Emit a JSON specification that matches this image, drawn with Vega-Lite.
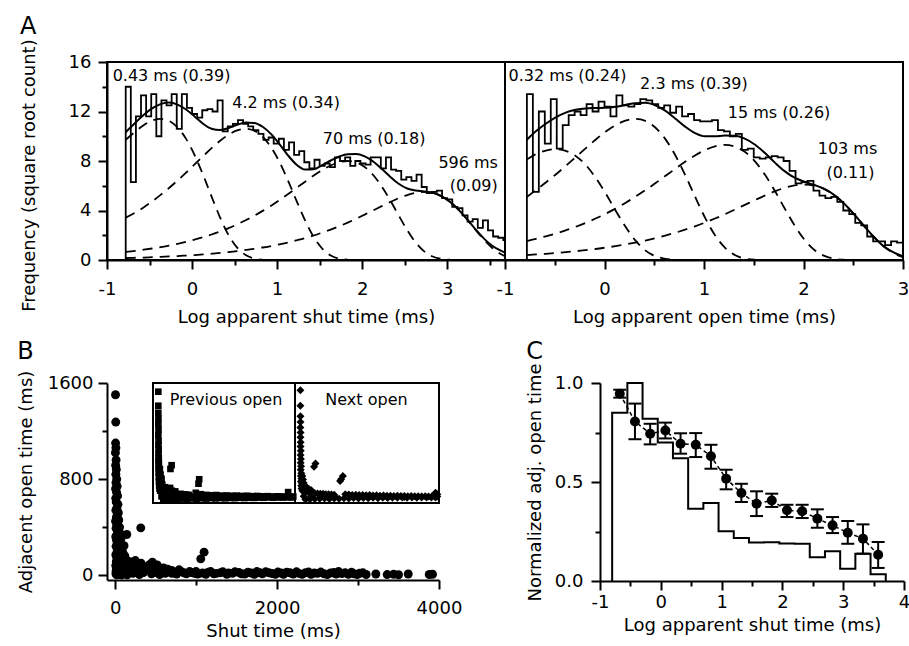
{
"$schema": "https://vega.github.io/schema/vega-lite/v6.json",
"background": "white",
"padding": {"left": 17, "top": 13, "right": 0, "bottom": 0},
"config": {
 "font": "DejaVu Sans",
 "view": {"stroke": null},
 "axis": {"labelFont": "DejaVu Sans", "titleFont": "DejaVu Sans", "labelFontSize": 18, "titleFontSize": 18, "titleFontWeight": "normal", "labelColor": "black", "titleColor": "black", "domainColor": "black", "tickColor": "black", "domainWidth": 2, "tickWidth": 2, "grid": false, "labelOverlap": false, "labelFlush": false},
 "title": {"font": "DejaVu Sans", "fontSize": 24, "fontWeight": "normal", "color": "black", "anchor": "start", "frame": "bounds", "baseline": "alphabetic"},
 "text": {"font": "DejaVu Sans", "fontSize": 16, "color": "black"}
},
"datasets": {
 "histL": [{"i":0,"x":-0.78,"y":0},{"i":1,"x":-0.78,"y":14.0},{"i":2,"x":-0.72,"y":6.3},{"i":3,"x":-0.66,"y":11.6},{"i":4,"x":-0.60,"y":13.3},{"i":5,"x":-0.54,"y":11.6},{"i":6,"x":-0.48,"y":13.4},{"i":7,"x":-0.42,"y":10.0},{"i":8,"x":-0.36,"y":12.9},{"i":9,"x":-0.30,"y":12.5},{"i":10,"x":-0.24,"y":13.4},{"i":11,"x":-0.18,"y":10.6},{"i":12,"x":-0.12,"y":13.4},{"i":13,"x":-0.06,"y":12.3},{"i":14,"x":0.00,"y":11.8},{"i":15,"x":0.06,"y":11.5},{"i":16,"x":0.12,"y":12.1},{"i":17,"x":0.18,"y":12.2},{"i":18,"x":0.24,"y":12.0},{"i":19,"x":0.30,"y":12.9},{"i":20,"x":0.36,"y":10.4},{"i":21,"x":0.42,"y":10.8},{"i":22,"x":0.48,"y":11.0},{"i":23,"x":0.54,"y":11.3},{"i":24,"x":0.60,"y":11.0},{"i":25,"x":0.66,"y":10.8},{"i":26,"x":0.72,"y":10.5},{"i":27,"x":0.78,"y":10.2},{"i":28,"x":0.84,"y":9.7},{"i":29,"x":0.90,"y":9.9},{"i":30,"x":0.96,"y":9.4},{"i":31,"x":1.02,"y":9.8},{"i":32,"x":1.08,"y":8.9},{"i":33,"x":1.14,"y":9.5},{"i":34,"x":1.20,"y":8.5},{"i":35,"x":1.26,"y":8.8},{"i":36,"x":1.32,"y":7.9},{"i":37,"x":1.38,"y":7.4},{"i":38,"x":1.44,"y":8.1},{"i":39,"x":1.50,"y":7.6},{"i":40,"x":1.56,"y":7.8},{"i":41,"x":1.62,"y":7.5},{"i":42,"x":1.68,"y":8.3},{"i":43,"x":1.74,"y":8.0},{"i":44,"x":1.80,"y":8.3},{"i":45,"x":1.86,"y":7.6},{"i":46,"x":1.92,"y":8.0},{"i":47,"x":1.98,"y":7.8},{"i":48,"x":2.04,"y":7.7},{"i":49,"x":2.10,"y":8.3},{"i":50,"x":2.16,"y":8.3},{"i":51,"x":2.22,"y":7.4},{"i":52,"x":2.28,"y":8.3},{"i":53,"x":2.34,"y":7.3},{"i":54,"x":2.40,"y":7.2},{"i":55,"x":2.46,"y":6.5},{"i":56,"x":2.52,"y":6.7},{"i":57,"x":2.58,"y":6.4},{"i":58,"x":2.64,"y":6.9},{"i":59,"x":2.70,"y":5.9},{"i":60,"x":2.76,"y":5.4},{"i":61,"x":2.82,"y":5.5},{"i":62,"x":2.88,"y":5.6},{"i":63,"x":2.94,"y":5.0},{"i":64,"x":3.00,"y":4.9},{"i":65,"x":3.06,"y":4.3},{"i":66,"x":3.12,"y":4.2},{"i":67,"x":3.18,"y":3.6},{"i":68,"x":3.24,"y":3.1},{"i":69,"x":3.30,"y":3.3},{"i":70,"x":3.36,"y":2.6},{"i":71,"x":3.42,"y":3.2},{"i":72,"x":3.48,"y":2.4},{"i":73,"x":3.54,"y":1.9},{"i":74,"x":3.60,"y":1.8},{"i":75,"x":3.66,"y":1.6},{"i":76,"x":3.72,"y":1.6}],
 "histR": [{"i":0,"x":-0.78,"y":0},{"i":1,"x":-0.78,"y":13.4},{"i":2,"x":-0.72,"y":5.5},{"i":3,"x":-0.66,"y":12.0},{"i":4,"x":-0.60,"y":9.4},{"i":5,"x":-0.54,"y":13.0},{"i":6,"x":-0.48,"y":9.0},{"i":7,"x":-0.42,"y":10.9},{"i":8,"x":-0.36,"y":11.7},{"i":9,"x":-0.30,"y":12.0},{"i":10,"x":-0.24,"y":11.7},{"i":11,"x":-0.18,"y":12.6},{"i":12,"x":-0.12,"y":12.0},{"i":13,"x":-0.06,"y":12.8},{"i":14,"x":0.00,"y":12.4},{"i":15,"x":0.06,"y":11.6},{"i":16,"x":0.12,"y":13.3},{"i":17,"x":0.18,"y":12.5},{"i":18,"x":0.24,"y":12.4},{"i":19,"x":0.30,"y":12.6},{"i":20,"x":0.36,"y":13.0},{"i":21,"x":0.42,"y":12.9},{"i":22,"x":0.48,"y":12.6},{"i":23,"x":0.54,"y":12.3},{"i":24,"x":0.60,"y":12.5},{"i":25,"x":0.66,"y":11.9},{"i":26,"x":0.72,"y":12.4},{"i":27,"x":0.78,"y":11.6},{"i":28,"x":0.84,"y":11.8},{"i":29,"x":0.90,"y":11.3},{"i":30,"x":0.96,"y":11.2},{"i":31,"x":1.02,"y":11.2},{"i":32,"x":1.08,"y":11.3},{"i":33,"x":1.14,"y":10.5},{"i":34,"x":1.20,"y":10.4},{"i":35,"x":1.26,"y":10.0},{"i":36,"x":1.32,"y":10.2},{"i":37,"x":1.38,"y":8.9},{"i":38,"x":1.44,"y":9.0},{"i":39,"x":1.50,"y":8.3},{"i":40,"x":1.56,"y":8.2},{"i":41,"x":1.62,"y":8.3},{"i":42,"x":1.68,"y":8.4},{"i":43,"x":1.74,"y":8.3},{"i":44,"x":1.80,"y":8.0},{"i":45,"x":1.86,"y":7.2},{"i":46,"x":1.92,"y":6.2},{"i":47,"x":1.98,"y":6.3},{"i":48,"x":2.04,"y":6.4},{"i":49,"x":2.10,"y":5.6},{"i":50,"x":2.16,"y":5.2},{"i":51,"x":2.22,"y":5.0},{"i":52,"x":2.28,"y":5.1},{"i":53,"x":2.34,"y":4.7},{"i":54,"x":2.40,"y":4.0},{"i":55,"x":2.46,"y":3.7},{"i":56,"x":2.52,"y":3.0},{"i":57,"x":2.58,"y":2.8},{"i":58,"x":2.64,"y":1.9},{"i":59,"x":2.70,"y":1.5},{"i":60,"x":2.76,"y":1.5},{"i":61,"x":2.82,"y":1.2},{"i":62,"x":2.88,"y":1.5},{"i":63,"x":2.94,"y":1.4},{"i":64,"x":3.00,"y":1.4}],
 "curvesL": [{"x":-0.78,"c1":9.72,"c2":3.42,"c3":0.66,"c4":0.16,"tot":10.33},{"x":-0.67,"c1":10.36,"c2":3.82,"c3":0.74,"c4":0.18,"tot":11.07},{"x":-0.57,"c1":10.89,"c2":4.25,"c3":0.83,"c4":0.20,"tot":11.72},{"x":-0.47,"c1":11.26,"c2":4.73,"c3":0.93,"c4":0.23,"tot":12.25},{"x":-0.37,"c1":11.4,"c2":5.26,"c3":1.04,"c4":0.26,"tot":12.6},{"x":-0.27,"c1":11.24,"c2":5.82,"c3":1.17,"c4":0.29,"tot":12.72},{"x":-0.17,"c1":10.71,"c2":6.43,"c3":1.31,"c4":0.32,"tot":12.56},{"x":-0.07,"c1":9.79,"c2":7.06,"c3":1.47,"c4":0.36,"tot":12.16},{"x":0.03,"c1":8.48,"c2":7.73,"c3":1.65,"c4":0.40,"tot":11.6},{"x":0.13,"c1":6.88,"c2":8.39,"c3":1.84,"c4":0.45,"tot":11.01},{"x":0.23,"c1":5.12,"c2":9.04,"c3":2.06,"c4":0.51,"tot":10.6},{"x":0.33,"c1":3.43,"c2":9.63,"c3":2.31,"c4":0.57,"tot":10.5},{"x":0.43,"c1":2.01,"c2":10.13,"c3":2.58,"c4":0.64,"tot":10.66},{"x":0.53,"c1":1.0,"c2":10.47,"c3":2.88,"c4":0.72,"tot":10.93},{"x":0.63,"c1":0.40,"c2":10.6,"c3":3.21,"c4":0.81,"tot":11.11},{"x":0.73,"c1":0.12,"c2":10.45,"c3":3.57,"c4":0.90,"tot":11.08},{"x":0.83,"c1":0.02,"c2":9.96,"c3":3.97,"c4":1.01,"tot":10.77},{"x":0.93,"c1":null,"c2":9.10,"c3":4.39,"c4":1.13,"tot":10.17},{"x":1.03,"c1":null,"c2":7.89,"c3":4.85,"c4":1.27,"tot":9.35},{"x":1.13,"c1":null,"c2":6.39,"c3":5.33,"c4":1.42,"tot":8.44},{"x":1.23,"c1":null,"c2":4.76,"c3":5.83,"c4":1.59,"tot":7.7},{"x":1.33,"c1":null,"c2":3.19,"c3":6.33,"c4":1.77,"tot":7.31},{"x":1.43,"c1":null,"c2":1.87,"c3":6.82,"c4":1.98,"tot":7.34},{"x":1.53,"c1":null,"c2":0.93,"c3":7.27,"c4":2.21,"tot":7.66},{"x":1.63,"c1":null,"c2":0.37,"c3":7.64,"c4":2.46,"tot":8.04},{"x":1.73,"c1":null,"c2":0.11,"c3":7.90,"c4":2.73,"tot":8.36},{"x":1.83,"c1":null,"c2":0.02,"c3":8.0,"c4":3.02,"tot":8.55},{"x":1.93,"c1":null,"c2":null,"c3":7.89,"c4":3.33,"tot":8.56},{"x":2.03,"c1":null,"c2":null,"c3":7.52,"c4":3.67,"tot":8.37},{"x":2.13,"c1":null,"c2":null,"c3":6.87,"c4":4.01,"tot":7.96},{"x":2.23,"c1":null,"c2":null,"c3":5.95,"c4":4.35,"tot":7.37},{"x":2.33,"c1":null,"c2":null,"c3":4.83,"c4":4.69,"tot":6.73},{"x":2.43,"c1":null,"c2":null,"c3":3.60,"c4":5.00,"tot":6.16},{"x":2.53,"c1":null,"c2":null,"c3":2.41,"c4":5.25,"tot":5.78},{"x":2.63,"c1":null,"c2":null,"c3":1.41,"c4":5.43,"tot":5.61},{"x":2.73,"c1":null,"c2":null,"c3":0.70,"c4":5.5,"tot":5.54},{"x":2.83,"c1":null,"c2":null,"c3":0.28,"c4":5.42,"tot":5.43},{"x":2.93,"c1":null,"c2":null,"c3":0.09,"c4":5.17,"tot":5.17},{"x":3.03,"c1":null,"c2":null,"c3":0.02,"c4":4.72,"tot":4.72},{"x":3.13,"c1":null,"c2":null,"c3":null,"c4":4.09,"tot":4.09},{"x":3.23,"c1":null,"c2":null,"c3":null,"c4":3.32,"tot":3.32},{"x":3.33,"c1":null,"c2":null,"c3":null,"c4":2.47,"tot":2.5},{"x":3.43,"c1":null,"c2":null,"c3":null,"c4":1.66,"tot":1.75},{"x":3.53,"c1":null,"c2":null,"c3":null,"c4":0.97,"tot":1.15},{"x":3.63,"c1":null,"c2":null,"c3":null,"c4":0.48,"tot":0.75},{"x":3.68,"c1":null,"c2":null,"c3":null,"c4":0.31,"tot":0.6}],
 "curvesR": [{"x":-0.78,"c1":8.13,"c2":5.09,"c3":1.53,"c4":0.40,"tot":9.72},{"x":-0.69,"c1":8.55,"c2":5.65,"c3":1.71,"c4":0.45,"tot":10.40},{"x":-0.59,"c1":8.84,"c2":6.26,"c3":1.91,"c4":0.50,"tot":11.01},{"x":-0.49,"c1":8.95,"c2":6.91,"c3":2.14,"c4":0.56,"tot":11.52},{"x":-0.39,"c1":8.82,"c2":7.60,"c3":2.40,"c4":0.63,"tot":11.91},{"x":-0.29,"c1":8.41,"c2":8.31,"c3":2.68,"c4":0.71,"tot":12.14},{"x":-0.19,"c1":7.69,"c2":9.02,"c3":3.00,"c4":0.80,"tot":12.25},{"x":-0.09,"c1":6.66,"c2":9.72,"c3":3.35,"c4":0.89,"tot":12.28},{"x":0.01,"c1":5.40,"c2":10.36,"c3":3.73,"c4":1.00,"tot":12.3},{"x":0.11,"c1":4.02,"c2":10.89,"c3":4.15,"c4":1.12,"tot":12.38},{"x":0.21,"c1":2.70,"c2":11.26,"c3":4.61,"c4":1.26,"tot":12.53},{"x":0.31,"c1":1.58,"c2":11.4,"c3":5.11,"c4":1.41,"tot":12.67},{"x":0.41,"c1":0.78,"c2":11.24,"c3":5.64,"c4":1.57,"tot":12.7},{"x":0.51,"c1":0.31,"c2":10.71,"c3":6.20,"c4":1.76,"tot":12.5},{"x":0.61,"c1":0.10,"c2":9.79,"c3":6.78,"c4":1.97,"tot":12.07},{"x":0.71,"c1":0.02,"c2":8.48,"c3":7.36,"c4":2.20,"tot":11.44},{"x":0.81,"c1":null,"c2":6.88,"c3":7.93,"c4":2.45,"tot":10.78},{"x":0.91,"c1":null,"c2":5.12,"c3":8.45,"c4":2.72,"tot":10.25},{"x":1.01,"c1":null,"c2":3.43,"c3":8.88,"c4":3.02,"tot":9.99},{"x":1.11,"c1":null,"c2":2.01,"c3":9.19,"c4":3.35,"tot":9.99},{"x":1.21,"c1":null,"c2":1.0,"c3":9.3,"c4":3.70,"tot":10.06},{"x":1.31,"c1":null,"c2":0.40,"c3":9.17,"c4":4.07,"tot":10.04},{"x":1.41,"c1":null,"c2":0.12,"c3":8.74,"c4":4.45,"tot":9.81},{"x":1.51,"c1":null,"c2":0.02,"c3":7.99,"c4":4.83,"tot":9.33},{"x":1.61,"c1":null,"c2":null,"c3":6.92,"c4":5.20,"tot":8.66},{"x":1.71,"c1":null,"c2":null,"c3":5.61,"c4":5.54,"tot":7.89},{"x":1.81,"c1":null,"c2":null,"c3":4.18,"c4":5.83,"tot":7.18},{"x":1.91,"c1":null,"c2":null,"c3":2.80,"c4":6.03,"tot":6.65},{"x":2.01,"c1":null,"c2":null,"c3":1.64,"c4":6.1,"tot":6.32},{"x":2.11,"c1":null,"c2":null,"c3":0.81,"c4":6.01,"tot":6.06},{"x":2.21,"c1":null,"c2":null,"c3":0.33,"c4":5.73,"tot":5.74},{"x":2.31,"c1":null,"c2":null,"c3":0.10,"c4":5.24,"tot":5.24},{"x":2.41,"c1":null,"c2":null,"c3":0.02,"c4":4.54,"tot":4.54},{"x":2.51,"c1":null,"c2":null,"c3":null,"c4":3.68,"tot":3.68},{"x":2.61,"c1":null,"c2":null,"c3":null,"c4":2.74,"tot":2.74},{"x":2.71,"c1":null,"c2":null,"c3":null,"c4":1.84,"tot":1.84},{"x":2.81,"c1":null,"c2":null,"c3":null,"c4":1.08,"tot":1.08},{"x":2.91,"c1":null,"c2":null,"c3":null,"c4":0.53,"tot":0.6},{"x":3.0,"c1":null,"c2":null,"c3":null,"c4":0.22,"tot":0.3}],
 "annL": [{"x":-0.241,"y":14.9,"label":"0.43 ms (0.39)"},{"x":1.106,"y":12.7,"label":"4.2 ms (0.34)"},{"x":2.141,"y":9.74,"label":"70 ms (0.18)"},{"x":3.247,"y":7.85,"label":"596 ms"},{"x":3.312,"y":5.94,"label":"(0.09)"}],
 "annR": [{"x":-0.372,"y":14.83,"label":"0.32 ms (0.24)"},{"x":0.899,"y":14.26,"label":"2.3 ms (0.39)"},{"x":1.754,"y":11.84,"label":"15 ms (0.26)"},{"x":2.442,"y":9.0,"label":"103 ms"},{"x":2.472,"y":7.07,"label":"(0.11)"}],
 "scatter": [{"x":5,"y":1502},{"x":8,"y":1275},{"x":6,"y":1100},{"x":10,"y":1060},{"x":4,"y":1020},{"x":12,"y":960},{"x":7,"y":915},{"x":15,"y":880},{"x":9,"y":840},{"x":20,"y":800},{"x":11,"y":770},{"x":25,"y":740},{"x":6,"y":720},{"x":18,"y":690},{"x":30,"y":660},{"x":8,"y":640},{"x":14,"y":610},{"x":35,"y":590},{"x":22,"y":560},{"x":10,"y":540},{"x":40,"y":520},{"x":28,"y":500},{"x":16,"y":480},{"x":45,"y":460},{"x":6,"y":450},{"x":33,"y":440},{"x":20,"y":420},{"x":55,"y":400},{"x":12,"y":390},{"x":38,"y":370},{"x":60,"y":350},{"x":25,"y":340},{"x":8,"y":320},{"x":48,"y":310},{"x":70,"y":300},{"x":18,"y":290},{"x":35,"y":270},{"x":65,"y":255},{"x":110,"y":245},{"x":12,"y":240},{"x":50,"y":230},{"x":80,"y":215},{"x":28,"y":205},{"x":95,"y":190},{"x":40,"y":180},{"x":9,"y":170},{"x":60,"y":165},{"x":120,"y":160},{"x":22,"y":150},{"x":85,"y":140},{"x":45,"y":130},{"x":150,"y":120},{"x":15,"y":115},{"x":70,"y":110},{"x":250,"y":122},{"x":30,"y":100},{"x":110,"y":95},{"x":55,"y":90},{"x":180,"y":85},{"x":8,"y":80},{"x":90,"y":75},{"x":35,"y":70},{"x":300,"y":75},{"x":140,"y":65},{"x":20,"y":60},{"x":70,"y":55},{"x":210,"y":50},{"x":45,"y":45},{"x":400,"y":55},{"x":120,"y":40},{"x":12,"y":35},{"x":260,"y":35},{"x":80,"y":30},{"x":500,"y":40},{"x":30,"y":25},{"x":170,"y":25},{"x":350,"y":22},{"x":60,"y":18},{"x":600,"y":25},{"x":220,"y":15},{"x":10,"y":12},{"x":100,"y":10},{"x":450,"y":12},{"x":40,"y":8},{"x":300,"y":6},{"x":150,"y":4},{"x":700,"y":15},{"x":20,"y":3},{"x":550,"y":5},{"x":80,"y":2},{"x":144,"y":339},{"x":317,"y":394},{"x":461,"y":108},{"x":1058,"y":136},{"x":1099,"y":192},{"x":790,"y":45},{"x":650,"y":30},{"x":850,"y":20},{"x":920,"y":30},{"x":980,"y":15},{"x":1150,"y":25},{"x":1220,"y":12},{"x":1300,"y":20},{"x":1380,"y":8},{"x":1450,"y":15},{"x":1530,"y":22},{"x":1600,"y":10},{"x":1680,"y":18},{"x":1750,"y":30},{"x":1820,"y":12},{"x":1900,"y":20},{"x":1980,"y":8},{"x":2050,"y":18},{"x":2120,"y":25},{"x":2200,"y":10},{"x":2270,"y":15},{"x":2350,"y":20},{"x":2420,"y":8},{"x":2500,"y":15},{"x":2580,"y":12},{"x":2660,"y":18},{"x":2730,"y":10},{"x":2800,"y":14},{"x":2880,"y":8},{"x":2950,"y":12},{"x":3020,"y":16},{"x":3100,"y":6},{"x":3220,"y":10},{"x":3360,"y":5},{"x":3440,"y":8},{"x":3500,"y":4},{"x":3620,"y":10},{"x":3880,"y":6},{"x":3920,"y":8},{"x":520,"y":20},{"x":560,"y":35},{"x":620,"y":15},{"x":680,"y":30},{"x":740,"y":20},{"x":760,"y":10},{"x":820,"y":28},{"x":880,"y":12},{"x":940,"y":22},{"x":1000,"y":30},{"x":1020,"y":10},{"x":1080,"y":18},{"x":1120,"y":8},{"x":1180,"y":30},{"x":1250,"y":15},{"x":1330,"y":28},{"x":1400,"y":18},{"x":1480,"y":28},{"x":1560,"y":12},{"x":1640,"y":25},{"x":1720,"y":8},{"x":1790,"y":20},{"x":1860,"y":28},{"x":1940,"y":14},{"x":2010,"y":26},{"x":2080,"y":8},{"x":2160,"y":20},{"x":2240,"y":28},{"x":2310,"y":8},{"x":2390,"y":26},{"x":2460,"y":18},{"x":2540,"y":26},{"x":2620,"y":6},{"x":2700,"y":22},{"x":2760,"y":30},{"x":2840,"y":20},{"x":2920,"y":25},{"x":2990,"y":5},{"x":3060,"y":20},{"x":200,"y":110},{"x":250,"y":80},{"x":320,"y":100},{"x":380,"y":70},{"x":430,"y":90},{"x":480,"y":60},{"x":520,"y":85},{"x":350,"y":50},{"x":280,"y":95},{"x":180,"y":60},{"x":600,"y":60},{"x":650,"y":50},{"x":700,"y":40}],
 "prev": [{"x":5,"y":1500},{"x":5,"y":1300},{"x":5,"y":1200},{"x":8,"y":1120},{"x":6,"y":1040},{"x":10,"y":960},{"x":6,"y":880},{"x":12,"y":800},{"x":8,"y":740},{"x":15,"y":680},{"x":10,"y":620},{"x":18,"y":560},{"x":8,"y":520},{"x":22,"y":470},{"x":12,"y":430},{"x":28,"y":390},{"x":15,"y":350},{"x":35,"y":310},{"x":20,"y":280},{"x":45,"y":250},{"x":25,"y":220},{"x":60,"y":190},{"x":30,"y":160},{"x":80,"y":140},{"x":40,"y":120},{"x":110,"y":100},{"x":60,"y":90},{"x":150,"y":80},{"x":394,"y":453},{"x":360,"y":400},{"x":200,"y":70},{"x":260,"y":60},{"x":330,"y":55},{"x":420,"y":50},{"x":500,"y":45},{"x":580,"y":40},{"x":660,"y":45},{"x":740,"y":38},{"x":820,"y":35},{"x":900,"y":30},{"x":1200,"y":253},{"x":1180,"y":190},{"x":1100,"y":60},{"x":1250,"y":40},{"x":1400,"y":30},{"x":1550,"y":25},{"x":1700,"y":28},{"x":1850,"y":20},{"x":2000,"y":22},{"x":2150,"y":18},{"x":2300,"y":20},{"x":2450,"y":15},{"x":2600,"y":18},{"x":2750,"y":12},{"x":2900,"y":15},{"x":3050,"y":10},{"x":3200,"y":12},{"x":3350,"y":8},{"x":3500,"y":10},{"x":3650,"y":8},{"x":3800,"y":70},{"x":3800,"y":5},{"x":3950,"y":8},{"x":100,"y":10},{"x":300,"y":5},{"x":600,"y":8},{"x":1000,"y":5},{"x":1500,"y":4},{"x":2000,"y":3},{"x":2500,"y":5},{"x":3000,"y":2},{"x":3500,"y":3},{"x":80,"y":200},{"x":120,"y":180},{"x":100,"y":260},{"x":70,"y":320},{"x":50,"y":400},{"x":90,"y":150},{"x":200,"y":140},{"x":250,"y":110},{"x":300,"y":100},{"x":180,"y":120},{"x":400,"y":90},{"x":500,"y":80},{"x":350,"y":130},{"x":150,"y":-35},{"x":280,"y":-30},{"x":420,"y":-28},{"x":560,"y":-25},{"x":700,"y":-22},{"x":840,"y":-28},{"x":980,"y":-20},{"x":1120,"y":-25},{"x":1260,"y":-18},{"x":1400,"y":-22},{"x":1540,"y":-15},{"x":1680,"y":-20},{"x":1820,"y":-14},{"x":1960,"y":-18},{"x":2100,"y":-12},{"x":2240,"y":-16},{"x":2380,"y":-10},{"x":2520,"y":-14},{"x":2660,"y":-10},{"x":2800,"y":-12},{"x":2940,"y":-8},{"x":3080,"y":-10},{"x":3220,"y":-6},{"x":3360,"y":-9},{"x":3500,"y":-6},{"x":3640,"y":-8},{"x":3780,"y":-5},{"x":3900,"y":-6}],
 "next": [{"x":5,"y":1520},{"x":5,"y":1300},{"x":6,"y":1150},{"x":8,"y":1070},{"x":5,"y":990},{"x":10,"y":920},{"x":7,"y":850},{"x":12,"y":780},{"x":9,"y":720},{"x":15,"y":660},{"x":10,"y":600},{"x":20,"y":540},{"x":12,"y":490},{"x":25,"y":440},{"x":14,"y":390},{"x":30,"y":340},{"x":18,"y":300},{"x":40,"y":260},{"x":22,"y":220},{"x":55,"y":190},{"x":30,"y":160},{"x":75,"y":140},{"x":40,"y":120},{"x":100,"y":100},{"x":60,"y":90},{"x":140,"y":85},{"x":440,"y":476},{"x":400,"y":430},{"x":1180,"y":253},{"x":1230,"y":300},{"x":1150,"y":230},{"x":200,"y":75},{"x":270,"y":65},{"x":340,"y":60},{"x":420,"y":55},{"x":500,"y":50},{"x":580,"y":45},{"x":660,"y":48},{"x":740,"y":40},{"x":820,"y":38},{"x":900,"y":35},{"x":980,"y":32},{"x":1300,"y":40},{"x":1400,"y":35},{"x":1500,"y":30},{"x":1600,"y":32},{"x":1700,"y":28},{"x":1800,"y":30},{"x":1900,"y":25},{"x":2000,"y":28},{"x":2100,"y":22},{"x":2200,"y":25},{"x":2300,"y":20},{"x":2400,"y":22},{"x":2500,"y":18},{"x":2600,"y":20},{"x":2700,"y":15},{"x":2800,"y":18},{"x":2900,"y":14},{"x":3000,"y":16},{"x":3100,"y":12},{"x":3200,"y":14},{"x":3300,"y":10},{"x":3400,"y":12},{"x":3500,"y":9},{"x":3600,"y":10},{"x":3700,"y":8},{"x":3800,"y":10},{"x":3900,"y":60},{"x":3950,"y":40},{"x":3950,"y":8},{"x":100,"y":10},{"x":300,"y":5},{"x":600,"y":8},{"x":1000,"y":5},{"x":1500,"y":4},{"x":2000,"y":3},{"x":2500,"y":5},{"x":3000,"y":2},{"x":3500,"y":3},{"x":60,"y":300},{"x":80,"y":250},{"x":100,"y":200},{"x":140,"y":160},{"x":200,"y":130},{"x":260,"y":110},{"x":320,"y":95},{"x":150,"y":-35},{"x":280,"y":-30},{"x":420,"y":-28},{"x":560,"y":-25},{"x":700,"y":-22},{"x":840,"y":-28},{"x":980,"y":-20},{"x":1120,"y":-25},{"x":1260,"y":-18},{"x":1400,"y":-22},{"x":1540,"y":-15},{"x":1680,"y":-20},{"x":1820,"y":-14},{"x":1960,"y":-18},{"x":2100,"y":-12},{"x":2240,"y":-16},{"x":2380,"y":-10},{"x":2520,"y":-14},{"x":2660,"y":-10},{"x":2800,"y":-12},{"x":2940,"y":-8},{"x":3080,"y":-10},{"x":3220,"y":-6},{"x":3360,"y":-9},{"x":3500,"y":-6},{"x":3640,"y":-8},{"x":3780,"y":-5},{"x":3900,"y":-6}],
 "histC": [{"i":0,"x":-0.8,"y":0},{"i":1,"x":-0.8,"y":0.85},{"i":2,"x":-0.55,"y":1.0},{"i":3,"x":-0.3,"y":0.82},{"i":4,"x":-0.05,"y":0.70},{"i":5,"x":0.2,"y":0.62},{"i":6,"x":0.45,"y":0.365},{"i":7,"x":0.7,"y":0.394},{"i":8,"x":0.95,"y":0.251},{"i":9,"x":1.2,"y":0.217},{"i":10,"x":1.45,"y":0.194},{"i":11,"x":1.7,"y":0.196},{"i":12,"x":1.95,"y":0.19},{"i":13,"x":2.2,"y":0.188},{"i":14,"x":2.45,"y":0.12},{"i":15,"x":2.7,"y":0.15},{"i":16,"x":2.95,"y":0.062},{"i":17,"x":3.2,"y":0.138},{"i":18,"x":3.45,"y":0.034},{"i":19,"x":3.7,"y":0}],
 "ptsC": [{"x":-0.675,"y":0.946,"lo":0.926,"hi":0.966},{"x":-0.425,"y":0.806,"lo":0.716,"hi":0.896},{"x":-0.175,"y":0.744,"lo":0.69,"hi":0.794},{"x":0.075,"y":0.76,"lo":0.72,"hi":0.80},{"x":0.325,"y":0.693,"lo":0.643,"hi":0.746},{"x":0.575,"y":0.688,"lo":0.626,"hi":0.747},{"x":0.825,"y":0.63,"lo":0.567,"hi":0.688},{"x":1.075,"y":0.517,"lo":0.463,"hi":0.562},{"x":1.325,"y":0.444,"lo":0.399,"hi":0.491},{"x":1.575,"y":0.39,"lo":0.328,"hi":0.453},{"x":1.825,"y":0.407,"lo":0.374,"hi":0.441},{"x":2.075,"y":0.357,"lo":0.323,"hi":0.385},{"x":2.325,"y":0.352,"lo":0.318,"hi":0.385},{"x":2.575,"y":0.315,"lo":0.269,"hi":0.362},{"x":2.825,"y":0.281,"lo":0.242,"hi":0.323},{"x":3.075,"y":0.244,"lo":0.188,"hi":0.303},{"x":3.325,"y":0.214,"lo":0.138,"hi":0.286},{"x":3.575,"y":0.133,"lo":0.066,"hi":0.197}]
},
"vconcat": [
 {"hconcat": [
  {"width": 398, "height": 198,
   "title": {"text": "A", "offset": 0},
   "view": {"stroke": "black", "strokeWidth": 2},
   "encoding": {
    "x": {"field": "x", "type": "quantitative", "title": "Log apparent shut time (ms)", "scale": {"domain": [-1, 3.68], "nice": false, "zero": false},
          "axis": {"values": [-1,-0.5,0,0.5,1,1.5,2,2.5,3,3.5], "labelExpr": "datum.value % 1 === 0 ? toString(datum.value) : ''", "tickSize": {"condition": {"test": "datum.value % 1 !== 0", "value": 5}, "value": 9}, "labelPadding": 11, "titlePadding": 10}},
    "y": {"field": "y", "type": "quantitative", "title": "Frequency (square root count)", "scale": {"domain": [0, 16], "nice": false, "zero": false},
          "axis": {"values": [0,2,4,6,8,10,12,14,16], "labelExpr": "datum.value % 4 === 0 ? toString(datum.value) : ''", "tickSize": {"condition": {"test": "datum.value % 4 !== 0", "value": 5}, "value": 9}, "labelPadding": 7, "titlePadding": 30, "titleY": 113}}
   },
   "layer": [
    {"data": {"name": "histL"}, "mark": {"type": "line", "interpolate": "step-after", "color": "black", "strokeWidth": 1.8, "clip": true}, "encoding": {"order": {"field": "i", "type": "quantitative"}}},
    {"data": {"name": "curvesL"}, "transform": [{"fold": ["c1","c2","c3","c4"], "as": ["key","y"]}], "mark": {"type": "line", "interpolate": "monotone", "color": "black", "strokeWidth": 1.8, "strokeDash": [10, 7], "clip": true}, "encoding": {"detail": {"field": "key", "type": "nominal"}}},
    {"data": {"name": "curvesL"}, "transform": [{"fold": ["tot"], "as": ["key","y"]}], "mark": {"type": "line", "interpolate": "monotone", "color": "black", "strokeWidth": 2, "clip": true}, "encoding": {"detail": {"field": "key", "type": "nominal"}}},
    {"data": {"name": "annL"}, "mark": {"type": "text", "fontSize": 16, "align": "center", "baseline": "middle"}, "encoding": {"text": {"field": "label", "type": "nominal"}}}
   ]
  },
  {"width": 398, "height": 198,
   "view": {"stroke": "black", "strokeWidth": 2},
   "encoding": {
    "x": {"field": "x", "type": "quantitative", "title": "Log apparent open time (ms)", "scale": {"domain": [-1, 3], "nice": false, "zero": false},
          "axis": {"values": [-1,-0.5,0,0.5,1,1.5,2,2.5,3], "labelExpr": "datum.value % 1 === 0 ? toString(datum.value) : ''", "tickSize": {"condition": {"test": "datum.value % 1 !== 0", "value": 5}, "value": 9}, "labelPadding": 11, "titlePadding": 10}},
    "y": {"field": "y", "type": "quantitative", "scale": {"domain": [0, 16], "nice": false, "zero": false}, "axis": null}
   },
   "layer": [
    {"data": {"name": "histR"}, "mark": {"type": "line", "interpolate": "step-after", "color": "black", "strokeWidth": 1.8, "clip": true}, "encoding": {"order": {"field": "i", "type": "quantitative"}}},
    {"data": {"name": "curvesR"}, "transform": [{"fold": ["c1","c2","c3","c4"], "as": ["key","y"]}], "mark": {"type": "line", "interpolate": "monotone", "color": "black", "strokeWidth": 1.8, "strokeDash": [10, 7], "clip": true}, "encoding": {"detail": {"field": "key", "type": "nominal"}}},
    {"data": {"name": "curvesR"}, "transform": [{"fold": ["tot"], "as": ["key","y"]}], "mark": {"type": "line", "interpolate": "monotone", "color": "black", "strokeWidth": 2, "clip": true}, "encoding": {"detail": {"field": "key", "type": "nominal"}}},
    {"data": {"name": "annR"}, "mark": {"type": "text", "fontSize": 16, "align": "center", "baseline": "middle"}, "encoding": {"text": {"field": "label", "type": "nominal"}}}
   ]
  }
 ], "spacing": 0, "bounds": "flush"},
 {"hconcat": [
  {"width": 332, "height": 197,
   "title": {"text": "B", "offset": 6},
   "layer": [
    {"data": {"name": "scatter"}, "mark": {"type": "circle", "size": 80, "opacity": 1, "color": "black"},
     "encoding": {
      "x": {"field": "x", "type": "quantitative", "title": "Shut time (ms)", "scale": {"domain": [-100, 4000], "nice": false, "zero": false},
            "axis": {"values": [0,1000,2000,3000,4000], "labelExpr": "datum.value % 2000 === 0 ? toString(datum.value) : ''", "tickSize": {"condition": {"test": "datum.value % 2000 !== 0", "value": 5}, "value": 9}, "labelPadding": 10, "titlePadding": 5}},
      "y": {"field": "y", "type": "quantitative", "title": "Adjacent open time (ms)", "scale": {"domain": [-40, 1600], "nice": false, "zero": false},
            "axis": {"values": [0,400,800,1200,1600], "labelExpr": "datum.value % 800 === 0 ? toString(datum.value) : ''", "tickSize": {"condition": {"test": "datum.value % 800 !== 0", "value": 5}, "value": 9}, "labelPadding": 5, "titlePadding": 12}}
     }},
    {"data": {"values": [{}]}, "mark": {"type": "rect", "fill": "white", "stroke": "black", "strokeWidth": 2},
     "encoding": {
      "x": {"datum": -150, "type": "quantitative", "scale": {"domain": [-150, 4000], "range": [46, 188], "nice": false, "zero": false}, "axis": null},
      "x2": {"datum": 4000},
      "y": {"datum": -85, "type": "quantitative", "scale": {"domain": [-85, 1624], "range": [120, 0], "nice": false, "zero": false}, "axis": null},
      "y2": {"datum": 1624}
     }},
    {"data": {"values": [{}]}, "mark": {"type": "rect", "fill": "white", "stroke": "black", "strokeWidth": 2},
     "encoding": {
      "x": {"datum": -150, "type": "quantitative", "scale": {"domain": [-150, 4000], "range": [188, 332], "nice": false, "zero": false}, "axis": null},
      "x2": {"datum": 4000},
      "y": {"datum": -85, "type": "quantitative", "scale": {"domain": [-85, 1624], "range": [120, 0], "nice": false, "zero": false}, "axis": null},
      "y2": {"datum": 1624}
     }},
    {"data": {"name": "prev"}, "mark": {"type": "point", "shape": "square", "filled": true, "size": 44, "color": "black", "opacity": 1},
     "encoding": {
      "x": {"field": "x", "type": "quantitative", "scale": {"domain": [-150, 4000], "range": [46, 188], "nice": false, "zero": false}, "axis": null},
      "y": {"field": "y", "type": "quantitative", "scale": {"domain": [-85, 1624], "range": [120, 0], "nice": false, "zero": false}, "axis": null}
     }},
    {"data": {"name": "next"}, "mark": {"type": "point", "shape": "diamond", "filled": true, "size": 64, "color": "black", "opacity": 1},
     "encoding": {
      "x": {"field": "x", "type": "quantitative", "scale": {"domain": [-150, 4000], "range": [188, 332], "nice": false, "zero": false}, "axis": null},
      "y": {"field": "y", "type": "quantitative", "scale": {"domain": [-85, 1624], "range": [120, 0], "nice": false, "zero": false}, "axis": null}
     }},
    {"data": {"values": [{"label": "Previous open", "x": 1983, "y": 1375}]}, "mark": {"type": "text", "fontSize": 16, "align": "center", "baseline": "middle"},
     "encoding": {
      "x": {"field": "x", "type": "quantitative", "scale": {"domain": [-150, 4000], "range": [46, 188], "nice": false, "zero": false}, "axis": null},
      "y": {"field": "y", "type": "quantitative", "scale": {"domain": [-85, 1624], "range": [120, 0], "nice": false, "zero": false}, "axis": null},
      "text": {"field": "label", "type": "nominal"}
     }},
    {"data": {"values": [{"label": "Next open", "x": 1910, "y": 1375}]}, "mark": {"type": "text", "fontSize": 16, "align": "center", "baseline": "middle"},
     "encoding": {
      "x": {"field": "x", "type": "quantitative", "scale": {"domain": [-150, 4000], "range": [188, 332], "nice": false, "zero": false}, "axis": null},
      "y": {"field": "y", "type": "quantitative", "scale": {"domain": [-85, 1624], "range": [120, 0], "nice": false, "zero": false}, "axis": null},
      "text": {"field": "label", "type": "nominal"}
     }}
   ],
   "resolve": {"scale": {"x": "independent", "y": "independent"}}
  },
  {"width": 304, "height": 198,
   "title": {"text": "C", "offset": -1},
   "encoding": {
    "x": {"field": "x", "type": "quantitative", "title": "Log apparent shut time (ms)", "scale": {"domain": [-1, 4], "nice": false, "zero": false},
          "axis": {"values": [-1,-0.5,0,0.5,1,1.5,2,2.5,3,3.5,4], "labelExpr": "datum.value % 1 === 0 ? toString(datum.value) : ''", "tickSize": {"condition": {"test": "datum.value % 1 !== 0", "value": 5}, "value": 9}, "labelPadding": 3, "titlePadding": 5}}
   },
   "layer": [
    {"data": {"name": "histC"}, "mark": {"type": "line", "interpolate": "step-after", "color": "black", "strokeWidth": 2},
     "encoding": {"y": {"field": "y", "type": "quantitative", "title": "Normalized adj. open time", "scale": {"domain": [0, 1], "nice": false, "zero": false},
        "axis": {"values": [0,0.25,0.5,0.75,1], "labelExpr": "datum.value % 0.5 === 0 ? format(datum.value, '.1f') : ''", "tickSize": {"condition": {"test": "datum.value % 0.5 !== 0", "value": 5}, "value": 9}, "labelPadding": 8, "titlePadding": 10}},
      "order": {"field": "i", "type": "quantitative"}}},
    {"data": {"name": "ptsC"}, "mark": {"type": "line", "color": "black", "strokeWidth": 1.5, "strokeDash": [4, 3]},
     "encoding": {"y": {"field": "y", "type": "quantitative", "title": "Normalized adj. open time"}}},
    {"data": {"name": "ptsC"}, "mark": {"type": "rule", "color": "black", "strokeWidth": 2},
     "encoding": {"y": {"field": "lo", "type": "quantitative", "title": "Normalized adj. open time"}, "y2": {"field": "hi"}}},
    {"data": {"name": "ptsC"}, "mark": {"type": "tick", "orient": "horizontal", "size": 13, "thickness": 2, "color": "black", "opacity": 1},
     "encoding": {"y": {"field": "lo", "type": "quantitative", "title": "Normalized adj. open time"}}},
    {"data": {"name": "ptsC"}, "mark": {"type": "tick", "orient": "horizontal", "size": 13, "thickness": 2, "color": "black", "opacity": 1},
     "encoding": {"y": {"field": "hi", "type": "quantitative", "title": "Normalized adj. open time"}}},
    {"data": {"name": "ptsC"}, "mark": {"type": "circle", "size": 100, "color": "black", "opacity": 1},
     "encoding": {"y": {"field": "y", "type": "quantitative", "title": "Normalized adj. open time"}}}
   ]
  }
 ], "spacing": 161, "bounds": "flush"}
],
"spacing": 321,
"bounds": "flush"
}
